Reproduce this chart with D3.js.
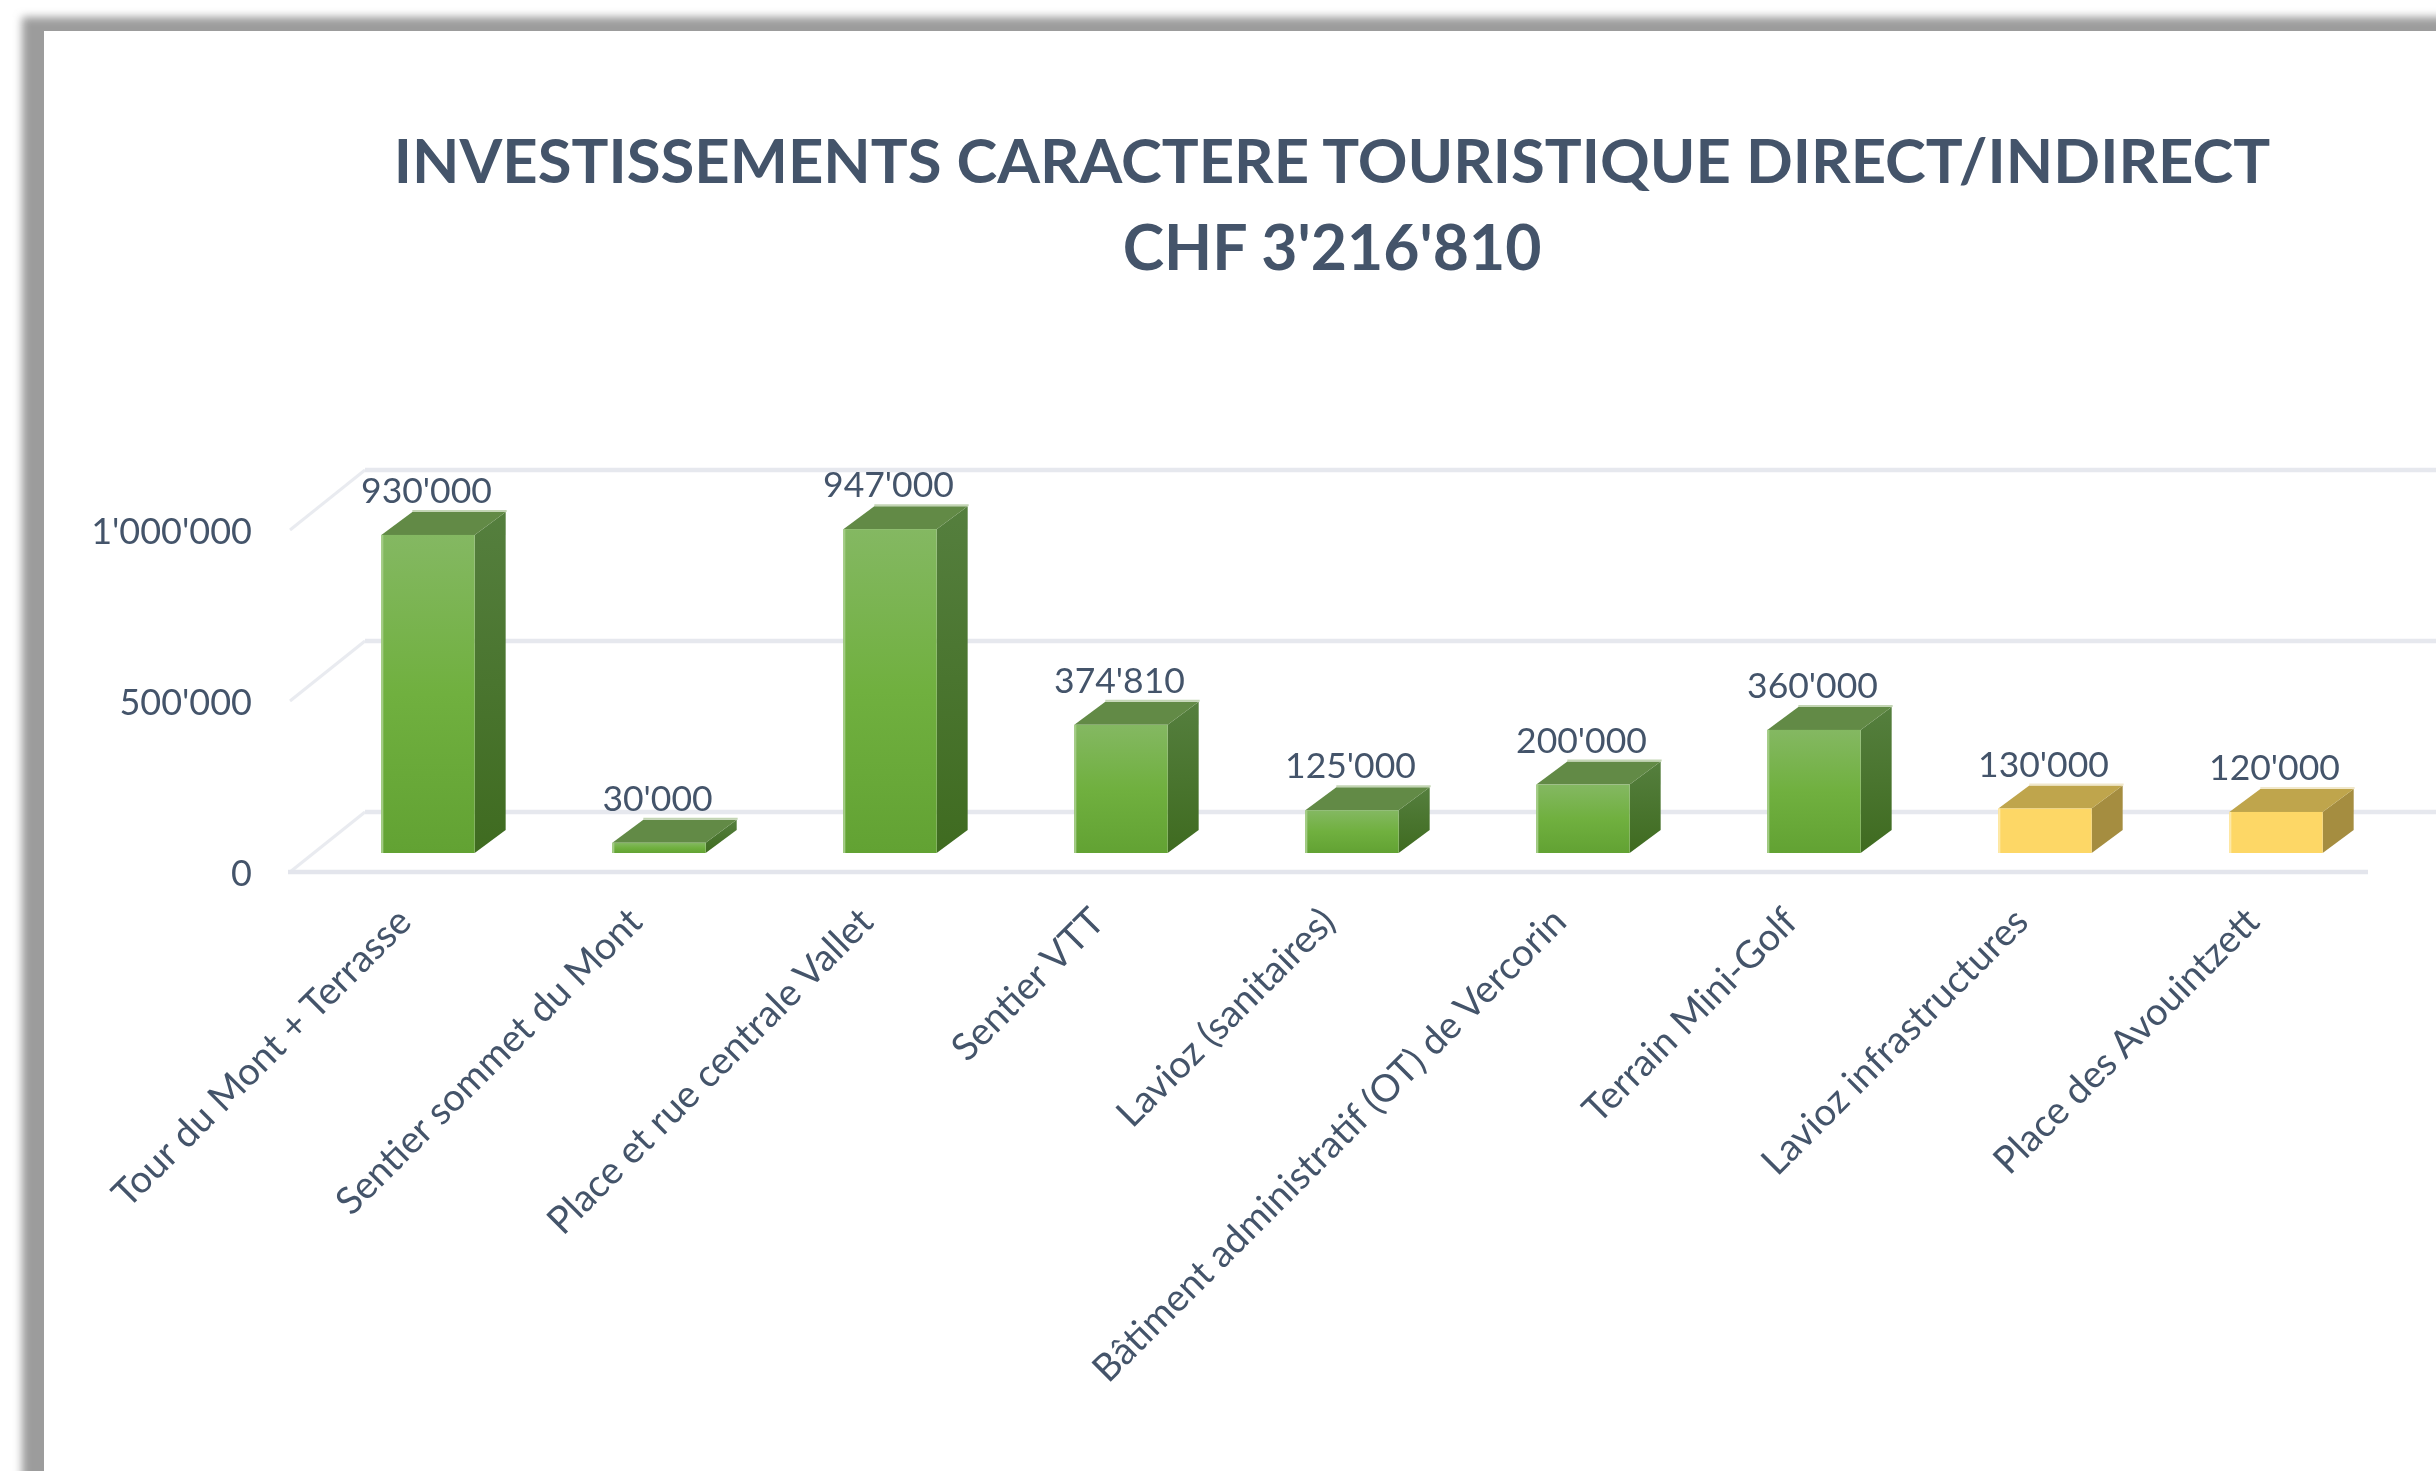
<!DOCTYPE html>
<html><head><meta charset="utf-8">
<script src="https://cdn.jsdelivr.net/npm/d3@7"></script>
<style>html,body{margin:0;padding:0;background:#fff;overflow:hidden;width:2436px;height:1471px}svg{display:block;filter:blur(.7px)}</style>
</head><body><svg id="c" width="2500" height="1550"></svg>
<script>
const categories=["Tour du Mont + Terrasse","Sentier sommet du Mont","Place et rue centrale Vallet","Sentier VTT","Lavioz (sanitaires)","Bâtiment administratif (OT) de Vercorin","Terrain Mini-Golf","Lavioz infrastructures","Place des Avouintzett"];
const values=[930000,30000,947000,374810,125000,200000,360000,130000,120000];
const labels=["930'000","30'000","947'000","374'810","125'000","200'000","360'000","130'000","120'000"];
const groups=["g","g","g","g","g","g","g","y","y"];
const ticks=[0,500000,1000000];
const tickLabels=["0","500'000","1'000'000"];
const titleLines=["INVESTISSEMENTS CARACTERE TOURISTIQUE DIRECT/INDIRECT","CHF 3'216'810"];

const svg=d3.select("#c"),font="Lato, Carlito, 'Open Sans', sans-serif",ink="#44546a";
const defs=svg.append("defs");
const blur=defs.append("filter").attr("id","sh").attr("x","-5%").attr("y","-5%").attr("width","110%").attr("height","110%");
blur.append("feGaussianBlur").attr("stdDeviation",4);
function grad(id,stops){const g=defs.append("linearGradient").attr("id",id).attr("x1",0).attr("x2",0).attr("y1",0).attr("y2",1);
 stops.forEach(s=>g.append("stop").attr("offset",s[0]).attr("stop-color",s[1]));}
grad("gf",[[0,"#84b862"],[.5,"#70b03f"],[1,"#62a233"]]);
grad("gs",[[0,"#557f3e"],[1,"#3f6b20"]]);

// frame
svg.append("rect").attr("x",22).attr("y",17).attr("width",2600).attr("height",1700).attr("fill","#9c9c9c").attr("filter","url(#sh)");
svg.append("rect").attr("x",44).attr("y",31).attr("width",2500).attr("height",1600).attr("fill","#fff");

// title
svg.selectAll(".t").data(titleLines).join("text").attr("x",1332).attr("y",(d,i)=>[183,270][i])
 .attr("text-anchor","middle").attr("font-family",font).attr("font-weight",700).attr("font-size",(d,i)=>[61.6,62.5][i]).attr("fill",ink).text(d=>d);

// scales
const y=d3.scaleLinear().domain([0,1000000]).range([872,530]);
const yBar=d3.scaleLinear().domain([0,1000000]).range([853,511]);
const x=d3.scaleBand().domain(categories).range([312.5,2391.5]).paddingInner(.596).paddingOuter(.298);
const floorX=75,floorY=60,dx=31,dy=23,right=2368;

// grid
const g=svg.append("g");
ticks.forEach((t,i)=>{
 g.append("line").attr("x1",290).attr("y1",y(t)).attr("x2",290+floorX).attr("y2",y(t)-floorY).attr("stroke","#e9ebf0").attr("stroke-width",3);
 g.append("line").attr("x1",290+floorX).attr("y1",y(t)-floorY).attr("x2",2500).attr("y2",y(t)-floorY).attr("stroke","#e6e8ee").attr("stroke-width",4.5);
});
g.append("line").attr("x1",288).attr("y1",y(0)).attr("x2",right).attr("y2",y(0)).attr("stroke","#e3e5ec").attr("stroke-width",4.5);

// axis labels
svg.selectAll(".yl").data(ticks).join("text").attr("x",252).attr("y",d=>y(d)+14).attr("text-anchor","end")
 .attr("font-family",font).attr("font-size",36).attr("fill",ink).text((d,i)=>tickLabels[i]);

// bars
const bars=svg.selectAll(".b").data(categories.map((c,i)=>({c,v:values[i],l:labels[i],k:groups[i]}))).join("g");
const pts=a=>a.map(p=>p.join(",")).join(" ");
bars.each(function(d){
 const s=d3.select(this),l=x(d.c),w=x.bandwidth(),r=l+w,t=yBar(d.v),b=yBar(0),yl=d.k==="y";
 s.append("polygon").attr("points",pts([[r,t],[r+dx,t-dy],[r+dx,b-dy],[r,b]])).attr("fill",yl?"#a58d40":"url(#gs)");
 s.append("polygon").attr("points",pts([[l,t],[l+dx,t-dy],[r+dx,t-dy],[r,t]])).attr("fill",yl?"#bfa54c":"#628a46");
 s.append("line").attr("x1",l+dx).attr("x2",r+dx+1).attr("y1",t-dy-1).attr("y2",t-dy-1).attr("stroke",yl?"#f1e8cb":"#c3d5b4").attr("stroke-width",2);
 s.append("rect").attr("x",l).attr("y",t).attr("width",w).attr("height",b-t).attr("fill",yl?"#fdd766":"url(#gf)");
 s.append("line").attr("x1",l+1).attr("x2",l+1).attr("y1",t).attr("y2",b).attr("stroke",yl?"#fde9a8":"#a3cc85").attr("stroke-width",2);
 s.append("text").attr("x",l+w/2-1.5).attr("y",t-dy-9).attr("text-anchor","middle").attr("font-family",font).attr("font-size",35.5).attr("fill",ink).text(d.l);
 s.append("text").attr("transform",`translate(${l+w/2-14.5},${924}) rotate(-45)`).attr("text-anchor","end").attr("font-family",font).attr("font-size",38).attr("fill",ink).text(d.c);
});
</script></body></html>
